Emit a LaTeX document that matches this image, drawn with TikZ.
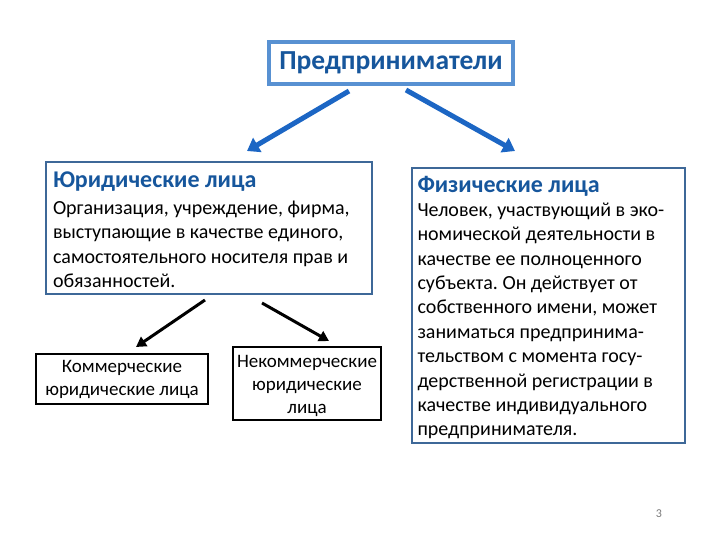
\documentclass[tikz,border=0pt]{standalone}
\usepackage{fontspec}
\setmainfont{Carlito}
\usetikzlibrary{arrows.meta}
\definecolor{topframe}{RGB}{88,145,210}
\definecolor{titleblue}{RGB}{22,86,156}
\definecolor{arrowblue}{RGB}{28,102,196}
\definecolor{boxframe}{RGB}{62,104,152}
\definecolor{pagegray}{RGB}{120,120,120}
\frenchspacing
\tikzset{
    headbox/.style = {
        draw=topframe, line width=4.5pt, rectangle, minimum width=244pt, minimum height=42pt,
        font=\fontsize{27.5}{30}\selectfont\bfseries, text=titleblue
    },
    infobox/.style = {
        draw=boxframe, line width=1.8pt, rectangle, align=left, inner sep=0pt,
        font=\fontsize{20}{24.4}\selectfont,
        execute at begin node={\spaceskip=0pt\xspaceskip=0pt\relax}
    },
    kindbox/.style = {
        draw=black, line width=2.4pt, rectangle, align=center, inner sep=0pt,
        font=\fontsize{19}{23}\selectfont,
        execute at begin node={\spaceskip=0pt\xspaceskip=0pt\relax}
    },
    bluearrow/.style = {
        arrowblue, line width=5pt, -{Triangle[width=16pt,length=12pt]}
    },
    blackarrow/.style = {
        black, line width=3pt, -{Triangle[width=11pt,length=10pt]}
    },
}
\newcommand{\boxtitle}[1]{{\fontsize{24}{26}\selectfont\bfseries\color{titleblue}#1}}
\begin{document}
\begin{tikzpicture}[x=1pt,y=-1pt]
    \useasboundingbox (0,0) rectangle (720,540);

    % Place the blocks
    \node[headbox] (ent) at (391,63) {Предприниматели};

    \node[infobox, minimum width=326pt, minimum height=132pt, text width=312pt] (jur) at (209,228)
        {\rule{0pt}{19.5pt}\boxtitle{Юридические лица}\\[2pt]
         Организация, учреждение, фирма,\\
         выступающие в качестве единого,\\
         самостоятельного носителя прав и\\
         обязанностей.};

    \node[infobox, minimum width=273pt, minimum height=275pt, text width=262pt] (phys) at (548.5,305.5)
        {\rule{0pt}{21pt}\boxtitle{Физические лица}\\[-1pt]
         Человек, участвующий в эко-\\
         номической деятельности в\\
         качестве ее полноценного\\
         субъекта. Он действует от\\
         собственного имени, может\\
         заниматься предпринима-\\
         тельством с момента госу-\\
         дерственной регистрации в\\
         качестве индивидуального\\
         предпринимателя.};

    \node[kindbox, minimum width=172pt, minimum height=50pt] (comm) at (122,379)
        {Коммерческие\\юридические лица};
    \node[kindbox, minimum width=148pt, minimum height=73pt] (noncomm) at (307,383.5)
        {\rule{0pt}{18pt}Некоммерческие\\юридические\\лица};

    % Draw connections
    \coordinate (ja) at (349,91);
    \coordinate (jb) at (247,151);
    \coordinate (pa) at (406,90);
    \coordinate (pb) at (515,151);
    \draw[bluearrow] (ja) -- (jb);
    \draw[bluearrow] (pa) -- (pb);

    \coordinate (ca) at (205,300);
    \coordinate (cb) at (136,347);
    \coordinate (na) at (262,303);
    \coordinate (nb) at (329,341);
    \draw[blackarrow] (ca) -- (cb);
    \draw[blackarrow] (na) -- (nb);

    % Page number
    \node[text=pagegray, font=\fontsize{12}{14}\selectfont] (page) at (659,514) {3};
\end{tikzpicture}
\end{document}
